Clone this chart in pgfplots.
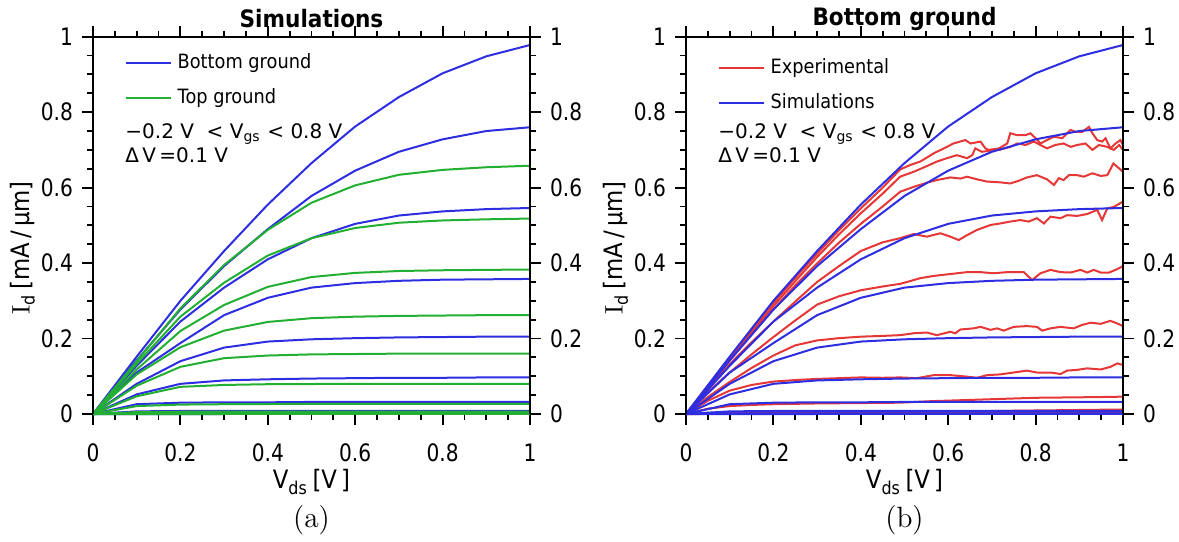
\documentclass[border=0pt]{standalone}
\usepackage{fontspec}
\usepackage{pgfplots}
\pgfplotsset{compat=1.18}

\newfontfamily\af[FakeStretch=0.9]{DejaVu Sans}
\newfontfamily\tf[FakeStretch=0.84]{DejaVu Sans}
\newfontfamily\nf{DejaVu Sans}
\newcommand\tickfont{\tf\fontsize{9}{10.5}\selectfont}
\newcommand\labfont{\af\fontsize{9.5}{11}\selectfont}
\newcommand\legfont{\af\fontsize{7.4}{8.5}\selectfont}
\newcommand\notefont{\nf\fontsize{7.5}{8.5}\selectfont}
\newcommand\titfont{\af\bfseries\fontsize{9}{10.5}\selectfont}
\newcommand\capfont{\rmfamily\fontsize{11}{13}\selectfont}

\definecolor{cblue}{RGB}{45,45,225}
\definecolor{cgreen}{RGB}{35,175,50}
\definecolor{cred}{RGB}{230,55,55}

\pgfplotsset{
  panel/.style={
    scale only axis, width=163.875pt, height=141.49pt,
    xmin=0, xmax=1, ymin=0, ymax=1,
    xtick={0,0.2,0.4,0.6,0.8,1}, ytick={0,0.2,0.4,0.6,0.8,1},
    minor x tick num=3, minor y tick num=3,
    tick align=outside,
    major tick length=4pt, minor tick length=2.3pt,
    tick style={black, line width=0.7pt},
    axis line style={black, line width=0.8pt},
    tick label style={font=\tickfont},
    xticklabel style={yshift=-3.6pt},
    /pgf/number format/assume math mode=true,
    clip=false,
    every axis plot/.append style={line width=0.75pt},
  },
  labs/.style={
    xlabel={V\textsubscript{ds}\,[V\,]},
    ylabel={{\rmfamily I}\textsubscript{d}\,[mA\,/\,µm]},
    label style={font=\labfont},
    xlabel style={at={(axis description cs:0.5,0)}, anchor=center, yshift=-25.5pt},
    ylabel style={at={(axis description cs:-0.161,0.44)}, anchor=center},
    legend style={draw=none, fill=none, font=\legfont, anchor=north west,
      row sep=2pt, inner sep=0pt, cells={inner xsep=0pt}},
    legend cell align=left,
    legend image code/.code={\draw[##1, line width=0.75pt] (0pt,0pt) -- (17pt,0pt);},
  },
  rightlabels/.style={panel, hide x axis, ytick pos=right, yticklabel pos=right},
}

\newcommand\bluesims{%
\addplot[cblue, forget plot] coordinates {(0,0)(0.1,0.152)(0.2,0.300)(0.3,0.432)(0.4,0.555)(0.5,0.665)(0.6,0.762)(0.7,0.840)(0.8,0.903)(0.9,0.948)(1,0.978)};
\addplot[cblue, forget plot] coordinates {(0,0)(0.1,0.142)(0.2,0.277)(0.3,0.392)(0.4,0.490)(0.5,0.578)(0.6,0.645)(0.7,0.695)(0.8,0.728)(0.9,0.750)(1,0.760)};
\addplot[cblue, forget plot] coordinates {(0,0)(0.1,0.128)(0.2,0.245)(0.3,0.335)(0.4,0.410)(0.5,0.466)(0.6,0.504)(0.7,0.526)(0.8,0.537)(0.9,0.543)(1,0.546)};
\addplot[cblue, forget plot] coordinates {(0,0)(0.1,0.110)(0.2,0.188)(0.3,0.262)(0.4,0.308)(0.5,0.335)(0.6,0.347)(0.7,0.353)(0.8,0.356)(0.9,0.357)(1,0.358)};
\addplot[cblue, forget plot] coordinates {(0,0)(0.1,0.080)(0.2,0.140)(0.3,0.176)(0.4,0.192)(0.5,0.198)(0.6,0.201)(0.7,0.203)(0.8,0.204)(0.9,0.205)(1,0.205)};
\addplot[cblue, forget plot] coordinates {(0,0)(0.1,0.052)(0.2,0.080)(0.3,0.089)(0.4,0.092)(0.5,0.094)(0.6,0.095)(0.7,0.096)(0.8,0.096)(0.9,0.097)(1,0.097)};
\addplot[cblue, forget plot] coordinates {(0,0)(0.1,0.026)(0.2,0.030)(0.3,0.031)(0.4,0.031)(0.5,0.032)(1,0.032)};
\addplot[cblue, forget plot] coordinates {(0,0)(0.1,0.007)(0.2,0.008)(1,0.008)};
\addplot[cblue, forget plot] coordinates {(0,0)(0.1,0.002)(1,0.002)};
\addplot[cblue, forget plot] coordinates {(0,0)(0.1,0.0006)(1,0.0006)};
\addplot[cblue, forget plot] coordinates {(0,0)(1,0.0001)};
}

\newcommand\notes{%
\node[anchor=base west, font=\notefont, inner sep=0pt] at (axis description cs:0.073,0.729) {−0.2 V\ \ < V\textsubscript{gs} < 0.8 V};
\node[anchor=base west, font=\notefont, inner sep=0pt] at (axis description cs:0.073,0.666) {Δ\,V\,=0.1 V};
}

\begin{document}
\begin{tikzpicture}
\useasboundingbox (0,0) rectangle (442.125pt,202.875pt);

% (a) simulations
\begin{axis}[panel, labs, at={(34.875pt,47.625pt)}, anchor=south west,
  yticklabel pos=left,
  legend style={at={(axis description cs:0.072,0.972)}}]
\addlegendimage{cblue}\addlegendentry{Bottom ground}
\addlegendimage{cgreen}\addlegendentry{Top ground}
\bluesims
\addplot[cgreen, forget plot] coordinates {(0,0)(0.1,0.140)(0.2,0.280)(0.3,0.395)(0.4,0.488)(0.5,0.560)(0.6,0.606)(0.7,0.634)(0.8,0.647)(0.9,0.654)(1,0.658)};
\addplot[cgreen, forget plot] coordinates {(0,0)(0.1,0.133)(0.2,0.258)(0.3,0.348)(0.4,0.420)(0.5,0.466)(0.6,0.493)(0.7,0.507)(0.8,0.513)(0.9,0.516)(1,0.518)};
\addplot[cgreen, forget plot] coordinates {(0,0)(0.1,0.118)(0.2,0.220)(0.3,0.289)(0.4,0.337)(0.5,0.363)(0.6,0.374)(0.7,0.379)(0.8,0.381)(0.9,0.382)(1,0.383)};
\addplot[cgreen, forget plot] coordinates {(0,0)(0.1,0.105)(0.2,0.177)(0.3,0.221)(0.4,0.244)(0.5,0.254)(0.6,0.258)(0.7,0.260)(0.8,0.261)(0.9,0.262)(1,0.262)};
\addplot[cgreen, forget plot] coordinates {(0,0)(0.1,0.075)(0.2,0.125)(0.3,0.148)(0.4,0.155)(0.5,0.158)(0.6,0.159)(0.7,0.160)(1,0.160)};
\addplot[cgreen, forget plot] coordinates {(0,0)(0.1,0.047)(0.2,0.072)(0.3,0.077)(0.4,0.079)(0.6,0.080)(1,0.080)};
\addplot[cgreen, forget plot] coordinates {(0,0)(0.1,0.021)(0.2,0.025)(0.3,0.026)(0.5,0.027)(1,0.027)};
\addplot[cgreen, forget plot] coordinates {(0,0)(0.1,0.005)(0.2,0.006)(1,0.006)};
\addplot[cgreen, forget plot] coordinates {(0,0)(0.1,0.0015)(1,0.0015)};
\addplot[cgreen, forget plot] coordinates {(0,0)(0.1,0.0004)(1,0.0004)};
\addplot[cgreen, forget plot] coordinates {(0,0)(1,0.0001)};
\notes
\node[font=\titfont] at (axis description cs:0.5,1.048) {Simulations};
\node[font=\capfont] at (axis description cs:0.5,-0.281) {(a)};
\end{axis}
\begin{axis}[rightlabels, at={(34.875pt,47.625pt)}, anchor=south west]
\end{axis}

% (b) bottom ground: experiment vs simulation
\begin{axis}[panel, labs, at={(257.25pt,47.625pt)}, anchor=south west,
  yticklabel pos=left,
  legend style={at={(axis description cs:0.072,0.957)}}]
\addlegendimage{cred}\addlegendentry{Experimental}
\addlegendimage{cblue}\addlegendentry{Simulations}
\addplot[cred, forget plot] coordinates {(0,0)(0.05,0.075)(0.1,0.149)(0.15,0.222)(0.2,0.294)(0.25,0.361)(0.3,0.425)(0.35,0.487)(0.4,0.545)(0.45,0.600)(0.49,0.648)(0.513,0.660)(0.536,0.669)(0.567,0.691)(0.59,0.704)(0.612,0.717)(0.639,0.726)(0.651,0.717)(0.674,0.722)(0.685,0.704)(0.693,0.700)(0.716,0.704)(0.735,0.717)(0.742,0.744)(0.758,0.739)(0.777,0.739)(0.788,0.744)(0.80,0.731)(0.811,0.717)(0.826,0.726)(0.842,0.735)(0.861,0.731)(0.872,0.744)(0.88,0.753)(0.891,0.748)(0.907,0.748)(0.922,0.761)(0.93,0.744)(0.941,0.726)(0.952,0.722)(0.96,0.731)(0.971,0.704)(0.983,0.717)(0.994,0.726)(1.0,0.713)};
\addplot[cred, forget plot] coordinates {(0,0)(0.05,0.073)(0.1,0.145)(0.15,0.216)(0.2,0.286)(0.25,0.352)(0.3,0.416)(0.35,0.476)(0.4,0.532)(0.45,0.584)(0.49,0.629)(0.521,0.642)(0.551,0.657)(0.574,0.669)(0.597,0.678)(0.62,0.686)(0.643,0.678)(0.655,0.686)(0.662,0.704)(0.677,0.695)(0.697,0.698)(0.719,0.701)(0.742,0.708)(0.758,0.717)(0.777,0.713)(0.796,0.722)(0.811,0.713)(0.826,0.704)(0.845,0.713)(0.864,0.717)(0.88,0.708)(0.895,0.713)(0.914,0.717)(0.93,0.70)(0.945,0.713)(0.964,0.708)(0.979,0.70)(0.991,0.713)(1.0,0.70)};
\addplot[cred, forget plot] coordinates {(0,0)(0.05,0.072)(0.1,0.142)(0.15,0.21)(0.2,0.277)(0.25,0.341)(0.3,0.399)(0.35,0.454)(0.4,0.504)(0.45,0.55)(0.49,0.589)(0.521,0.602)(0.551,0.613)(0.574,0.62)(0.605,0.627)(0.628,0.624)(0.643,0.629)(0.666,0.622)(0.689,0.616)(0.719,0.614)(0.742,0.611)(0.761,0.618)(0.78,0.627)(0.803,0.633)(0.826,0.622)(0.842,0.607)(0.853,0.625)(0.864,0.62)(0.876,0.633)(0.895,0.633)(0.91,0.629)(0.93,0.638)(0.949,0.631)(0.964,0.633)(0.978,0.664)(0.987,0.655)(1.0,0.642)};
\addplot[cred, forget plot] coordinates {(0,0)(0.05,0.068)(0.1,0.132)(0.15,0.19)(0.2,0.245)(0.25,0.298)(0.3,0.35)(0.35,0.392)(0.4,0.432)(0.45,0.455)(0.49,0.466)(0.521,0.477)(0.551,0.47)(0.582,0.479)(0.605,0.47)(0.624,0.461)(0.643,0.474)(0.666,0.488)(0.697,0.501)(0.719,0.505)(0.742,0.51)(0.765,0.514)(0.784,0.51)(0.803,0.519)(0.819,0.505)(0.834,0.523)(0.857,0.519)(0.872,0.527)(0.895,0.525)(0.918,0.53)(0.941,0.541)(0.952,0.514)(0.964,0.545)(0.979,0.549)(1.0,0.563)};
\addplot[cred, forget plot] coordinates {(0,0)(0.05,0.058)(0.1,0.11)(0.15,0.158)(0.2,0.204)(0.25,0.248)(0.3,0.29)(0.35,0.312)(0.4,0.328)(0.45,0.338)(0.49,0.345)(0.506,0.350)(0.536,0.36)(0.567,0.366)(0.605,0.371)(0.643,0.376)(0.674,0.376)(0.704,0.373)(0.735,0.376)(0.773,0.376)(0.792,0.355)(0.811,0.373)(0.834,0.382)(0.857,0.376)(0.88,0.375)(0.903,0.382)(0.918,0.375)(0.933,0.382)(0.949,0.375)(0.968,0.375)(0.983,0.382)(1.0,0.392)};
\addplot[cred, forget plot] coordinates {(0,0)(0.05,0.045)(0.1,0.085)(0.15,0.122)(0.2,0.155)(0.25,0.182)(0.3,0.195)(0.35,0.201)(0.4,0.205)(0.45,0.207)(0.49,0.209)(0.521,0.214)(0.551,0.216)(0.574,0.209)(0.605,0.218)(0.616,0.214)(0.628,0.224)(0.658,0.227)(0.674,0.231)(0.697,0.223)(0.712,0.227)(0.727,0.221)(0.75,0.231)(0.78,0.233)(0.803,0.231)(0.815,0.221)(0.834,0.227)(0.857,0.231)(0.887,0.227)(0.906,0.236)(0.926,0.242)(0.949,0.239)(0.971,0.247)(0.987,0.24)(1.0,0.233)};
\addplot[cred, forget plot] coordinates {(0,0)(0.05,0.035)(0.1,0.062)(0.15,0.077)(0.2,0.086)(0.25,0.09)(0.3,0.093)(0.35,0.095)(0.4,0.097)(0.45,0.096)(0.49,0.097)(0.528,0.095)(0.567,0.103)(0.605,0.103)(0.643,0.099)(0.666,0.096)(0.689,0.103)(0.719,0.105)(0.75,0.11)(0.78,0.115)(0.803,0.11)(0.834,0.11)(0.857,0.106)(0.872,0.115)(0.895,0.117)(0.918,0.121)(0.949,0.118)(0.971,0.125)(0.987,0.134)(1.0,0.13)};
\addplot[cred, forget plot] coordinates {(0,0)(0.05,0.014)(0.1,0.021)(0.15,0.024)(0.2,0.026)(0.3,0.028)(0.4,0.029)(0.49,0.030)(0.56,0.034)(0.64,0.037)(0.72,0.040)(0.8,0.043)(0.88,0.044)(0.95,0.045)(1.0,0.046)};
\addplot[cred, forget plot] coordinates {(0,0)(0.05,0.003)(0.1,0.004)(0.3,0.005)(0.5,0.006)(0.7,0.008)(0.85,0.010)(1.0,0.012)};
\addplot[cred, forget plot] coordinates {(0,0)(0.1,0.001)(0.5,0.002)(1.0,0.003)};
\addplot[cred, forget plot] coordinates {(0,0)(0.5,0.0005)(1.0,0.001)};
\bluesims
\notes
\node[font=\titfont] at (axis description cs:0.5,1.048) {Bottom ground};
\node[font=\capfont] at (axis description cs:0.5,-0.281) {(b)};
\end{axis}
\begin{axis}[rightlabels, at={(257.25pt,47.625pt)}, anchor=south west]
\end{axis}
\end{tikzpicture}
\end{document}
